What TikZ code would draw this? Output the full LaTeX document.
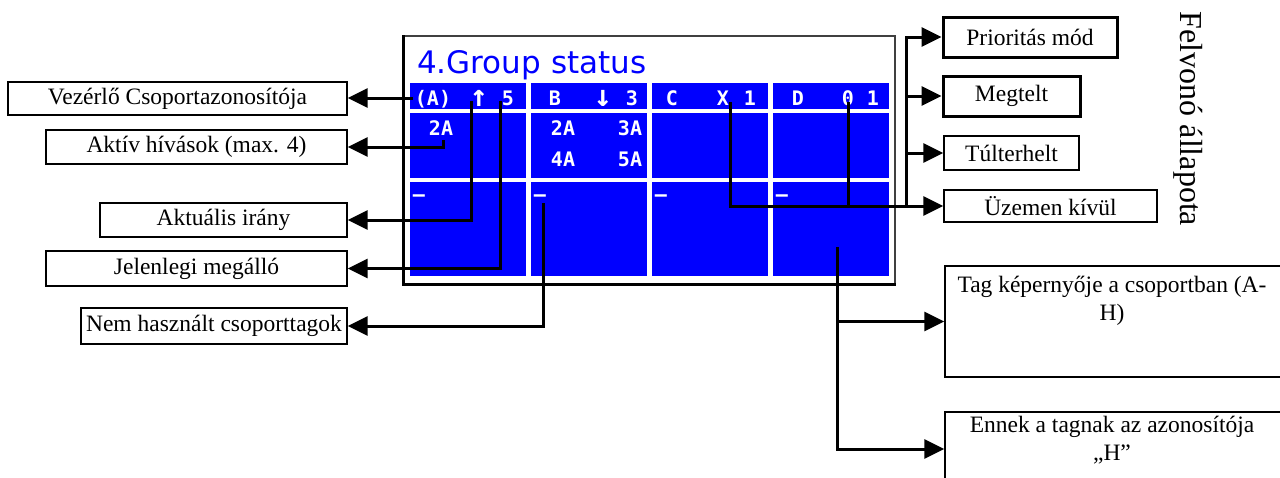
\documentclass[tikz,border=0pt]{standalone}
\usepackage{fontspec}
\setmainfont{Liberation Serif}
\newfontfamily\lcdfont{DejaVu Sans Mono}
\newfontfamily\titlefont{DejaVu Sans}
\usetikzlibrary{arrows.meta}
\definecolor{lcdblue}{RGB}{0,0,255}
\begin{document}
\begin{tikzpicture}[x=1pt,y=-1pt,
  lbl/.style={draw, line width=1.3pt, inner sep=0pt, font=\fontsize{23.5}{28}\selectfont},
  thicklbl/.style={lbl, line width=3pt},
  cell/.style={fill=lcdblue, inner sep=0pt, minimum width=116pt},
  lcd/.style={text=white, inner sep=0pt, anchor=base, font=\lcdfont\bfseries\fontsize{20}{20}\selectfont},
  lcdarrow/.style={lcd, font=\lcdfont\bfseries\fontsize{30}{30}\selectfont},
  arr/.style={line width=3pt, -{Triangle[length=20pt,width=19pt]}},
  conn/.style={line width=3pt}]
\useasboundingbox (0,0) rectangle (1280,477);

% display panel
\node[draw=black!75, line width=1.4pt, minimum width=491pt, minimum height=248pt, inner sep=0pt] (panel) at (649.5,160) {};
\draw[line width=2.6pt] (panel.north west) -- (panel.south west) -- (panel.south east);
\node[anchor=base west, inner sep=0pt, text=lcdblue, font=\titlefont\fontsize{31}{31}\selectfont] (title) at (417,73) {4.Group status};

% cells
\foreach \c/\x in {1/468,2/589,3/710,4/831}{
  \node[cell, minimum height=26pt] (r1c\c) at (\x,96) {};
  \node[cell, minimum height=65pt] (r2c\c) at (\x,145.5) {};
  \node[cell, minimum height=94pt] (r3c\c) at (\x,229) {};
}
% header texts
\node[lcd] (hA) at (433,105) {(A)};
\node[lcdarrow] (hAup) at (479,106) {↑};
\node[lcd] (hA5) at (508,105) {5};
\node[lcd] (hB) at (555,105) {B};
\node[lcdarrow] (hBdn) at (603,106) {↓};
\node[lcd] (hB3) at (632,105) {3};
\node[lcd] (hC) at (672,105) {C};
\node[lcd] (hCx) at (723,105) {X};
\node[lcd] (hC1) at (750,105) {1};
\node[lcd] (hD) at (798,105) {D};
\node[lcd] (hD0) at (848,105) {0};
\node[lcd] (hD1) at (873,105) {1};
% calls
\node[lcd] (a2A) at (441,135) {2A};
\node[lcd] (b2A) at (563,135) {2A};
\node[lcd] (b3A) at (630,135) {3A};
\node[lcd] (b4A) at (563,166) {4A};
\node[lcd] (b5A) at (630,166) {5A};
% dashes
\node[lcd] (d1) at (419,201) {–};
\node[lcd] (d2) at (540,201) {–};
\node[lcd] (d3) at (661,201) {–};
\node[lcd] (d4) at (782,201) {–};

% left labels
\node[lbl, minimum width=339pt, minimum height=33pt] (vez) at (177.5,98.5) {Vezérlő Csoportazonosítója};
\node[lbl, minimum width=301pt, minimum height=34pt] (aktiv) at (196.5,147) {Aktív hívások (max. 4)};
\node[lbl, minimum width=247pt, minimum height=34pt] (irany) at (223.5,220) {Aktuális irány};
\node[lbl, minimum width=301pt, minimum height=35pt] (megallo) at (196.5,268.5) {Jelenlegi megálló};
\node[lbl, minimum width=266pt, minimum height=36pt] (nem) at (214,326) {Nem használt csoporttagok};

% right labels
\node[thicklbl, minimum width=174pt, minimum height=40pt] (prio) at (1030,37) {Prioritás mód};
\node[thicklbl, minimum width=137pt, minimum height=40pt] (megtelt) at (1011.5,96) {Megtelt};
\node[lbl, minimum width=135pt, minimum height=34pt] (tul) at (1011.5,153) {Túlterhelt};
\node[lbl, minimum width=213pt, minimum height=32pt] (uzemen) at (1050.5,206) {Üzemen kívül};
\node[rotate=-90, inner sep=0pt, font=\fontsize{32}{32}\selectfont] (felvono) at (1188,119) {Felvonó állapota};

% bottom right labels
\node[lbl, minimum width=340pt, minimum height=111pt] (tag) at (1115,321.5) {};
\node[align=center, inner sep=0pt, font=\fontsize{23.5}{28}\selectfont] (tagtxt) at (1112,301) {Tag képernyője a csoportban (A-\\H)};
\node[lbl, minimum width=340pt, minimum height=74pt] (ennek) at (1115,449) {};
\node[align=center, inner sep=0pt, font=\fontsize{23.5}{28}\selectfont] (ennektxt) at (1112,440) {Ennek a tagnak az azonosítója\\„H”};

% connector start points
\coordinate (pA) at (413,98);
\coordinate (p2A) at (443,140);
\coordinate (pUp) at (471,101);
\coordinate (p5) at (500,101);
\coordinate (pDash) at (543,203);
\coordinate (pX) at (730,102);
\coordinate (p0) at (848,102);
\coordinate (pD) at (837,247);
\coordinate (bus) at (906,206);

% connectors
\draw[arr] (pA) -- (pA -| vez.east);
\draw[arr] (p2A) |- (aktiv.east);
\draw[arr] (pUp) |- (irany.east);
\draw[arr] (p5) |- (megallo.east);
\draw[arr] (pDash) |- (nem.east);
\draw[arr] (pX) |- (uzemen.west);
\draw[conn] (p0) -- (p0 |- uzemen.west);
\draw[arr] (bus) |- (prio.west);
\draw[arr] (bus |- megtelt.west) -- (megtelt.west);
\draw[arr] (bus |- tul.west) -- (tul.west);
\draw[arr] (pD) |- (ennek.west);
\draw[arr] (pD |- tag.west) -- (tag.west);
\end{tikzpicture}
\end{document}
